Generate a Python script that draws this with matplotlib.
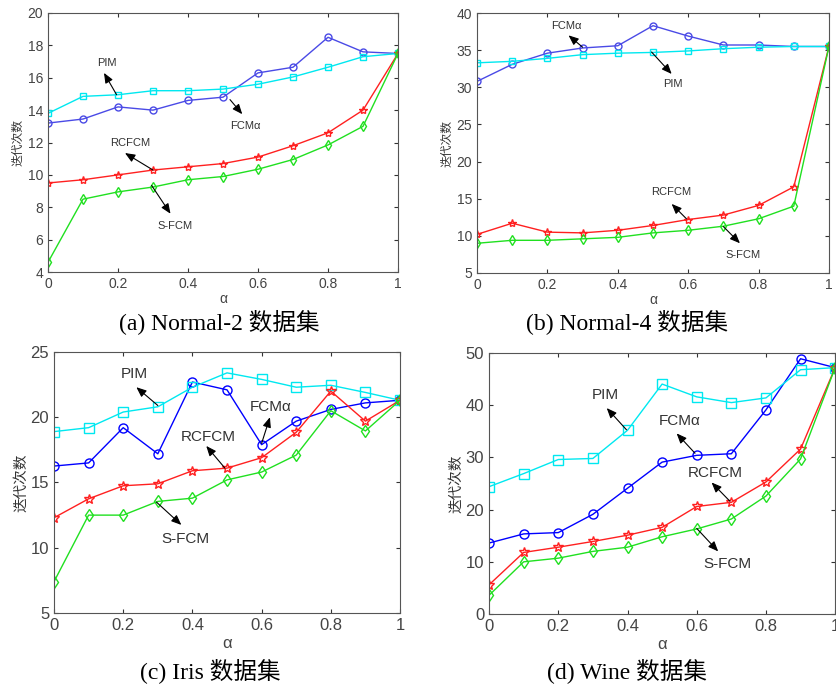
import matplotlib
matplotlib.use('Agg')
from matplotlib import pyplot as plt

alpha = [0, 0.1, 0.2, 0.3, 0.4, 0.5, 0.6, 0.7, 0.8, 0.9, 1.0]

# (a) Normal-2
n2_fcma = [13.2, 13.45, 14.2, 14.0, 14.6, 14.8, 16.3, 16.65, 18.5, 17.6, 17.5]
n2_pim = [13.8, 14.85, 14.95, 15.2, 15.2, 15.3, 15.6, 16.05, 16.65, 17.3, 17.5]
n2_rcfcm = [9.5, 9.7, 10.0, 10.3, 10.5, 10.7, 11.1, 11.8, 12.6, 14.0, 17.5]
n2_sfcm = [4.6, 8.5, 8.95, 9.25, 9.7, 9.9, 10.35, 10.95, 11.85, 13.0, 17.5]

# (b) Normal-4
n4_fcma = [30.8, 33.1, 34.6, 35.3, 35.6, 38.3, 36.9, 35.7, 35.7, 35.5, 35.5]
n4_pim = [33.3, 33.5, 33.9, 34.4, 34.6, 34.7, 34.9, 35.2, 35.4, 35.5, 35.5]
n4_rcfcm = [10.2, 11.7, 10.5, 10.4, 10.75, 11.4, 12.2, 12.8, 14.1, 16.6, 35.5]
n4_sfcm = [9.0, 9.4, 9.4, 9.6, 9.8, 10.4, 10.75, 11.3, 12.3, 14.0, 35.5]

# (c) Iris
iris_fcma = [16.26, 16.5, 19.2, 17.2, 22.7, 22.1, 17.9, 19.7, 20.6, 21.1, 21.3]
iris_pim = [18.9, 19.2, 20.4, 20.8, 22.3, 23.4, 22.9, 22.3, 22.45, 21.9, 21.3]
iris_rcfcm = [12.3, 13.75, 14.75, 14.9, 15.9, 16.1, 16.9, 18.85, 22.0, 19.7, 21.3]
iris_sfcm = [7.4, 12.5, 12.5, 13.55, 13.8, 15.2, 15.8, 17.1, 20.5, 18.95, 21.3]

# (d) Wine
wine_fcma = [13.6, 15.35, 15.6, 19.1, 24.1, 29.1, 30.4, 30.7, 39.1, 48.9, 47.2]
wine_pim = [24.4, 26.9, 29.6, 29.8, 35.2, 44.05, 41.6, 40.5, 41.4, 46.8, 47.2]
wine_rcfcm = [5.6, 11.8, 12.8, 13.9, 15.1, 16.6, 20.6, 21.4, 25.3, 31.6, 47.2]
wine_sfcm = [3.6, 10.0, 10.7, 12.0, 12.8, 14.8, 16.3, 18.2, 22.6, 29.7, 47.2]

captions = ['(a) Normal-2 数据集', '(b) Normal-4 数据集', '(c) Iris 数据集', '(d) Wine 数据集']

# label: (text x, text y, arrow tail, arrow head)
notes = [
    {'PIM': (0.167, 16.9, (0.196, 14.95), (0.16, 16.3)),
     'FCMα': (0.565, 13.0, (0.52, 14.65), (0.555, 13.75)),
     'RCFCM': (0.235, 11.95, (0.30, 10.3), (0.22, 11.35)),
     'S-FCM': (0.363, 6.85, (0.296, 9.35), (0.35, 7.6))},
    {'FCMα': (0.255, 38.2, (0.30, 35.4), (0.26, 37.0)),
     'PIM': (0.557, 30.4, (0.496, 34.75), (0.553, 31.8)),
     'RCFCM': (0.553, 15.9, (0.595, 12.3), (0.553, 14.3)),
     'S-FCM': (0.756, 7.4, (0.70, 11.25), (0.747, 9.0))},
    {'PIM': (0.233, 23.3, (0.30, 20.9), (0.238, 22.3)),
     'FCMα': (0.626, 20.75, (0.60, 18.0), (0.624, 20.0)),
     'RCFCM': (0.445, 18.5, (0.494, 16.1), (0.44, 17.8)),
     'S-FCM': (0.381, 10.7, (0.296, 13.5), (0.368, 11.75))},
    {'PIM': (0.335, 42.0, (0.397, 35.3), (0.34, 39.45)),
     'FCMα': (0.55, 37.0, (0.595, 30.8), (0.542, 34.6)),
     'RCFCM': (0.653, 27.0, (0.696, 21.6), (0.643, 25.2)),
     'S-FCM': (0.69, 9.5, (0.60, 16.4), (0.662, 12.0))},
]

plt.rcParams['font.family'] = ['Liberation Sans', 'Noto Sans CJK SC']

fig = plt.figure(figsize=(8.36, 6.84), dpi=100)

positions = [[0.0574, 0.6023, 0.4187, 0.3787],
             [0.5706, 0.6009, 0.4210, 0.3800],
             [0.0646, 0.1038, 0.4139, 0.3816],
             [0.5850, 0.1023, 0.4140, 0.3816]]
ylims = [(4, 20), (5, 40), (5, 25), (0, 50)]
yticks = [range(4, 21, 2), range(5, 41, 5), range(5, 26, 5), range(0, 51, 10)]
series = [(n2_fcma, n2_pim, n2_rcfcm, n2_sfcm),
          (n4_fcma, n4_pim, n4_rcfcm, n4_sfcm),
          (iris_fcma, iris_pim, iris_rcfcm, iris_sfcm),
          (wine_fcma, wine_pim, wine_rcfcm, wine_sfcm)]
caption_xy = [(0.262, 0.530), (0.750, 0.530), (0.251, 0.019), (0.750, 0.019)]

for i in range(4):
    ax = fig.add_axes(positions[i])
    top = i < 2
    fs = 10 if top else 12
    ms = 5 if top else 6.5
    blue = '#4a4ae6' if top else '#0000ff'
    fcma, pim, rcfcm, sfcm = series[i]
    ax.plot(alpha, fcma, '-o', color=blue, mfc='none', ms=ms, lw=1)
    ax.plot(alpha, pim, '-s', color='#00e8f0', mfc='none', ms=ms, lw=1)
    ax.plot(alpha, rcfcm, '-*', color='#ff2020', mfc='none', ms=ms + 1, lw=1)
    ax.plot(alpha, sfcm, '-d', color='#20e020', mfc='none', ms=ms, lw=1)
    ax.set_xlim(0, 1)
    ax.set_ylim(*ylims[i])
    ax.set_yticks(list(yticks[i]))
    ax.set_xticks([0, 0.2, 0.4, 0.6, 0.8, 1])
    ax.set_xticklabels(['0', '0.2', '0.4', '0.6', '0.8', '1'])
    ax.tick_params(direction='in', top=True, right=True, labelsize=fs,
                   labelcolor='#444444', color='#333333', length=3)
    for s in ax.spines.values():
        s.set_color('#555555')
    ax.set_xlabel('α', fontsize=fs, color='#444444', labelpad=1 if top else 2)
    ax.set_ylabel('迭代次数', fontsize=fs - 1.5, color='#333333', labelpad=2)

    for label, (tx, ty, tail, head) in notes[i].items():
        ax.text(tx, ty, label, fontsize=fs - 2 if top else fs - 1, ha='center',
                va='center', color='#333333')
        ax.annotate('', xy=head, xytext=tail,
                    arrowprops=dict(arrowstyle='-|>,head_length=0.6,head_width=0.25',
                                    color='black', lw=0.8, shrinkA=0, shrinkB=0))

    fig.text(caption_xy[i][0], caption_xy[i][1], captions[i], fontsize=17,
             ha='center', va='center',
             family=['Liberation Serif', 'Noto Sans CJK SC'])

fig.savefig('out.png', dpi=100)
